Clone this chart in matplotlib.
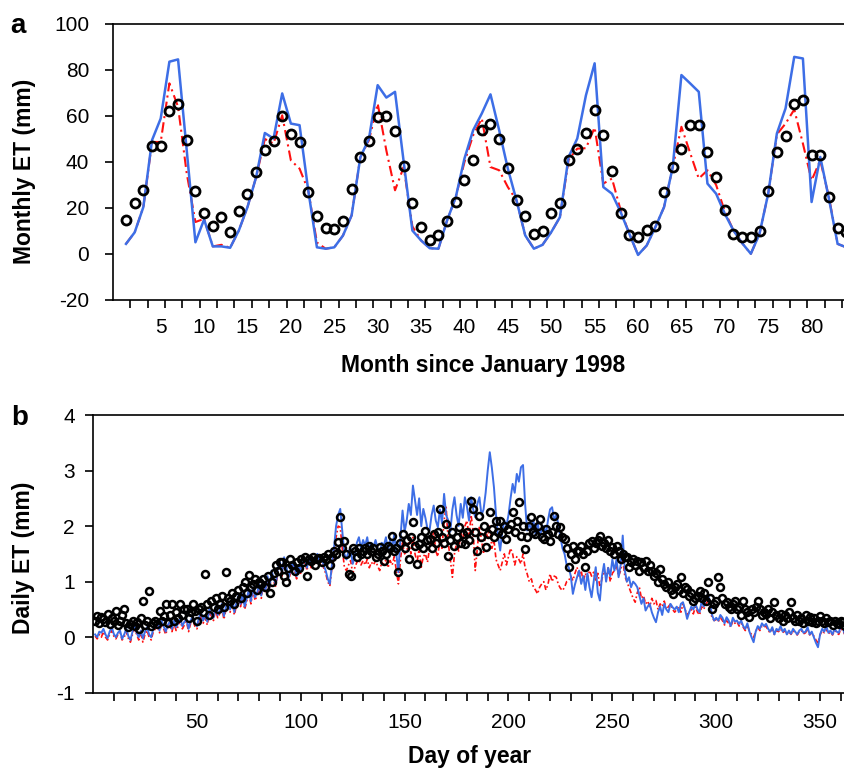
import numpy as np
import matplotlib
matplotlib.use("Agg")
import matplotlib.pyplot as plt
from matplotlib.ticker import FixedLocator

plt.rcParams['font.family'] = ['Liberation Sans', 'DejaVu Sans']
plt.rcParams['axes.unicode_minus'] = False

# ---- panel a: monthly ET, months since January 1998 ----
months = list(range(1, 85))
obs_month = [14.6, 22.1, 27.7, 46.8, 46.8, 62.2, 65.1, 49.5, 27.4, 17.9,
             12.3, 16.3, 9.5, 18.7, 26.1, 35.5, 45.0, 49.0, 59.8, 52.1,
             48.6, 26.8, 16.5, 11.2, 11.0, 14.5, 28.1, 42.2, 49.0, 59.6,
             59.9, 53.4, 38.1, 22.1, 11.7, 5.9, 8.4, 14.3, 22.6, 32.0,
             40.7, 53.8, 56.7, 49.8, 37.4, 23.6, 16.5, 8.8, 9.9, 17.8,
             22.1, 41.0, 45.7, 52.4, 62.8, 51.6, 35.9, 17.8, 8.1, 7.3,
             10.5, 12.0, 26.9, 37.8, 45.8, 56.0, 56.0, 44.4, 33.5, 19.3,
             8.8, 7.6, 7.6, 10.2, 27.2, 44.4, 51.2, 65.1, 66.9, 42.9,
             42.9, 24.7, 11.2, 9.5]
blue_month = [4.4, 9.4, 20.4, 49.5, 58.9, 83.6, 84.6, 45.0, 5.1, 15.0,
              3.3, 3.3, 2.7, 10.2, 20.4, 33.5, 52.6, 50.2, 69.8, 56.7,
              56.0, 27.7, 2.9, 2.3, 2.9, 8.0, 16.8, 42.0, 50.2, 73.4,
              68.0, 70.5, 40.0, 10.2, 5.9, 2.5, 2.3, 14.6, 24.7, 41.5,
              53.8, 61.1, 69.4, 53.8, 37.1, 23.3, 8.1, 2.3, 4.0, 9.5,
              16.0, 42.2, 50.2, 69.0, 82.9, 29.1, 26.2, 18.2, 8.8, -0.4,
              3.7, 11.7, 20.4, 37.8, 77.8, 74.2, 70.5, 30.6, 26.2, 17.5,
              10.2, 4.7, 0.1, 8.8, 26.2, 52.4, 63.3, 85.7, 85.0, 22.6,
              42.2, 24.0, 4.4, 2.9]
red_month = [4.4, 9.4, 20.4, 48.7, 48.7, 74.2, 64.0, 35.0, 13.9, 15.3,
             3.3, 4.0, 2.7, 10.2, 20.4, 33.5, 50.0, 48.0, 60.3, 40.7,
             37.1, 27.7, 5.0, 2.3, 2.9, 8.0, 16.8, 42.0, 49.5, 65.4,
             45.0, 27.7, 37.8, 12.0, 5.9, 2.5, 2.3, 14.6, 24.7, 40.0,
             51.6, 58.9, 37.8, 36.4, 29.1, 23.3, 8.1, 2.3, 4.0, 9.5,
             16.0, 41.0, 45.8, 46.0, 55.0, 30.6, 32.8, 19.0, 8.8, -0.4,
             3.7, 11.7, 20.4, 37.8, 55.3, 44.0, 32.8, 36.4, 30.0, 18.5,
             10.2, 4.7, 0.1, 8.8, 26.2, 52.0, 56.7, 62.8, 48.0, 32.0,
             40.7, 24.7, 4.4, 2.9]

# ---- panel b: daily ET, day of year ----
days = list(range(1, 366))
obs_day = [
    0.3, 0.39, 0.25, 0.36, 0.32, 0.28, 0.42, 0.24, 0.35, 0.3,
    0.48, 0.22, 0.3, 0.4, 0.51, 0.25, 0.18, 0.24, 0.3, 0.2,
    0.28, 0.15, 0.35, 0.66, 0.22, 0.3, 0.84, 0.2, 0.25, 0.3,
    0.24, 0.48, 0.3, 0.38, 0.6, 0.25, 0.4, 0.6, 0.3, 0.45,
    0.35, 0.6, 0.4, 0.5, 0.51, 0.35, 0.45, 0.6, 0.48, 0.3,
    0.5, 0.55, 0.45, 1.14, 0.6, 0.4, 0.65, 0.55, 0.7, 0.5,
    0.6, 0.75, 0.55, 1.17, 0.7, 0.65, 0.8, 0.6, 0.75, 0.85,
    0.7, 0.9, 1.0, 0.8, 1.12, 0.9, 0.95, 1.05, 0.85, 1.0,
    0.95, 1.05, 0.9, 1.1, 0.8, 1.0, 1.15, 1.3, 1.2, 1.35,
    1.35, 1.1, 1.0, 1.25, 1.4, 1.3, 1.2, 1.35, 1.25, 1.4,
    1.35, 1.45, 1.1, 1.4, 1.38, 1.45, 1.3, 1.4, 1.42, 1.35,
    1.45, 1.4, 1.5, 1.3, 1.45, 1.55, 1.5, 1.71, 2.16, 1.6,
    1.74, 1.5, 1.14, 1.1, 1.6, 1.55, 1.45, 1.6, 1.5, 1.55,
    1.6, 1.5, 1.65, 1.55, 1.6, 1.45, 1.5, 1.62, 1.55, 1.38,
    1.5, 1.65, 1.6, 1.83, 1.55, 1.6, 1.17, 1.7, 1.86, 1.6,
    1.75, 1.41, 1.8, 2.07, 1.65, 1.32, 1.68, 1.8, 1.6, 1.92,
    1.75, 1.77, 1.6, 1.85, 1.7, 1.9, 2.3, 1.8, 1.7, 2.04,
    1.47, 1.75, 1.9, 1.65, 1.8, 1.98, 1.7, 1.85, 1.68, 1.9,
    1.75, 2.46, 2.3, 1.9, 1.56, 2.19, 1.8, 2.0, 1.62, 1.85,
    2.25, 1.95, 1.8, 2.1, 1.9, 2.1, 1.85, 2.0, 1.77, 1.95,
    2.04, 2.25, 1.9, 2.1, 2.43, 1.83, 2.0, 1.59, 1.8, 2.0,
    2.16, 1.9, 1.86, 2.0, 2.13, 1.8, 1.77, 1.95, 1.85, 1.74,
    1.9, 2.19, 2.0, 1.85, 1.98, 1.8, 1.77, 1.6, 1.26, 1.5,
    1.65, 1.4, 1.55, 1.56, 1.65, 1.5, 1.26, 1.56, 1.7, 1.74,
    1.6, 1.7, 1.75, 1.83, 1.65, 1.7, 1.6, 1.75, 1.55, 1.62,
    1.5, 1.65, 1.56, 1.4, 1.5, 1.45, 1.44, 1.26, 1.35, 1.4,
    1.3, 1.38, 1.2, 1.35, 1.25, 1.38, 1.2, 1.3, 1.2, 1.1,
    1.15, 1.0, 1.23, 1.05, 0.95, 0.9, 1.0, 0.85, 0.78, 0.9,
    0.95, 0.85, 1.08, 0.8, 0.9, 0.87, 0.75, 0.8, 0.66, 0.7,
    0.75, 0.84, 0.7, 0.8, 0.65, 0.99, 0.7, 0.51, 0.6, 0.65,
    1.09, 0.9, 0.7, 0.6, 0.63, 0.55, 0.5, 0.6, 0.66, 0.5,
    0.55, 0.4, 0.66, 0.5, 0.45, 0.36, 0.5, 0.45, 0.55, 0.66,
    0.5, 0.4, 0.45, 0.42, 0.5, 0.35, 0.45, 0.63, 0.4, 0.35,
    0.42, 0.3, 0.4, 0.35, 0.45, 0.63, 0.35, 0.3, 0.4, 0.3,
    0.35, 0.25, 0.4, 0.3, 0.36, 0.28, 0.35, 0.25, 0.3, 0.39,
    0.3, 0.25, 0.35, 0.28, 0.3, 0.22, 0.3, 0.25, 0.24, 0.3,
    0.28, 0.2, 0.25, 0.3, 0.22]
blue_day = [
    0.05, 0.0, 0.1, 0.08, 0.15, 0.05, -0.02, 0.1, 0.18, 0.06,
    0.0, 0.08, 0.12, -0.03, 0.05, 0.15, 0.02, -0.05, 0.1, 0.2,
    0.08, 0.0, 0.12, -0.02, 0.1, 0.18, 0.05, 0.0, 0.15, 0.2,
    0.25, 0.12, 0.3, 0.2, 0.1, 0.22, 0.28, 0.15, 0.3, 0.18,
    0.25, 0.35, 0.2, 0.28, 0.32, 0.15, 0.3, 0.38, 0.25, 0.2,
    0.35, 0.45, 0.3, 0.4, 0.28, 0.5, 0.42, 0.35, 0.55, 0.4,
    0.48, 0.6, 0.38, 0.55, 0.65, 0.5, 0.7, 0.45, 0.62, 0.75,
    0.6, 0.78, 0.55, 0.7, 0.85, 0.65, 0.9, 0.72, 0.8, 0.95,
    0.75, 1.0, 0.85, 1.1, 0.9, 1.2, 1.05, 0.95, 1.25, 1.35,
    1.15, 1.44, 1.3, 1.05, 1.2, 1.35, 1.25, 1.1, 1.3, 1.2,
    1.35, 1.4, 1.25, 1.45, 1.3, 1.32, 1.4, 1.5, 1.35, 1.45,
    1.3, 1.2, 1.05, 0.96, 1.3, 1.6, 2.0, 2.2, 2.31, 1.9,
    1.5, 1.4, 1.55, 1.6, 1.32, 1.45, 1.7, 1.8, 1.6, 1.75,
    1.65, 1.8, 1.55, 1.7, 1.62, 1.75, 1.6, 1.5, 1.7, 1.65,
    1.8, 1.55, 1.75, 1.6, 1.85, 1.5, 1.17, 1.8, 2.28, 1.9,
    2.1, 2.4, 2.2, 2.73, 2.46, 2.2, 2.5, 2.0, 2.31, 2.15,
    1.95, 1.92, 2.2, 2.37, 2.1, 1.98, 2.3, 2.05, 2.58, 2.2,
    2.1, 1.9, 2.3, 2.52, 2.2, 2.0, 2.4, 2.15, 2.52, 2.35,
    2.1, 2.52, 2.3, 2.16, 2.4, 2.52, 2.2, 2.3, 2.6, 3.0,
    3.33, 3.05, 2.7, 2.2, 1.8, 1.56, 1.9, 2.1, 2.0, 2.2,
    2.5, 2.76, 2.6, 2.94, 2.8, 3.06, 3.1, 2.4, 1.92, 2.05,
    1.92, 2.1, 1.85, 2.1, 1.8, 1.95, 2.0, 1.85, 2.1, 2.3,
    2.34, 2.1, 2.2, 2.04, 1.8, 1.6, 1.5, 1.3, 1.26, 1.1,
    0.78, 0.95, 1.08, 1.2, 0.96, 1.1, 0.85, 1.15, 0.9, 0.72,
    1.0, 1.26, 0.8, 0.66, 1.1, 1.32, 1.0, 1.25, 1.1, 1.4,
    1.2, 1.4, 1.08, 1.3, 1.83, 1.2, 1.0, 1.08, 0.9, 1.0,
    0.96, 0.9, 0.75, 0.6, 0.7, 0.48, 0.55, 0.6, 0.45, 0.35,
    0.27, 0.45, 0.55, 0.4, 0.6, 0.5, 0.45, 0.6, 0.54, 0.5,
    0.55, 0.45, 0.6, 0.63, 0.5, 0.33, 0.45, 0.55, 0.5, 0.6,
    0.5, 0.45, 0.65, 0.55, 0.7, 0.78, 0.6, 0.4, 0.3, 0.35,
    0.3, 0.4, 0.35, 0.25, 0.36, 0.3, 0.2, 0.35, 0.28, 0.3,
    0.24, 0.3, 0.2, 0.15, 0.25, 0.1, 0.0, -0.09, 0.1, 0.2,
    0.15, 0.25, 0.2, 0.24, 0.15, 0.1, 0.18, 0.05, 0.15, 0.12,
    0.2, 0.1, 0.15, 0.05, 0.12, 0.06, 0.15, 0.1, 0.05, 0.12,
    0.15, 0.08, 0.1, 0.18, 0.05, 0.1, 0.0, -0.1, -0.18, 0.05,
    0.15, 0.1, 0.2, 0.08, 0.12, 0.05, 0.15, 0.1, 0.08, 0.2,
    0.15, 0.05, 0.0, 0.1, 0.15]
red_day = [
    0.02, -0.03, 0.05, 0.0, 0.1, 0.0, -0.05, 0.05, 0.12, 0.02,
    -0.03, 0.05, 0.08, -0.05, 0.0, 0.1, -0.02, -0.09, 0.05, 0.15,
    0.05, -0.05, 0.08, -0.09, 0.05, 0.12, 0.0, -0.05, 0.1, 0.15,
    0.2, 0.08, 0.25, 0.15, 0.05, 0.18, 0.22, 0.1, 0.25, 0.12,
    0.2, 0.3, 0.15, 0.22, 0.28, 0.1, 0.25, 0.32, 0.2, 0.15,
    0.3, 0.4, 0.25, 0.35, 0.22, 0.45, 0.38, 0.3, 0.5, 0.35,
    0.42, 0.55, 0.32, 0.5, 0.6, 0.45, 0.65, 0.4, 0.56, 0.7,
    0.55, 0.72, 0.5, 0.65, 0.8, 0.6, 0.85, 0.66, 0.75, 0.9,
    0.7, 0.95, 0.8, 1.05, 0.85, 1.15, 1.0, 0.9, 1.2, 1.3,
    1.1, 1.38, 1.25, 1.0, 1.15, 1.3, 1.2, 1.05, 1.25, 1.15,
    1.3, 1.35, 1.2, 1.4, 1.25, 1.28, 1.35, 1.45, 1.3, 1.4,
    1.25, 1.15, 1.0, 0.92, 1.25, 1.5, 1.8, 2.0, 1.98, 1.6,
    1.26, 1.2, 1.3, 1.38, 1.15, 1.25, 1.35, 1.4, 1.3, 1.38,
    1.3, 1.4, 1.25, 1.35, 1.3, 1.38, 1.28, 1.2, 1.35, 1.3,
    1.4, 1.25, 1.38, 1.3, 1.45, 1.2, 0.96, 1.4, 1.7, 1.5,
    1.55, 1.7, 1.5, 1.8, 1.5, 1.35, 1.6, 1.26, 1.45, 1.5,
    1.35, 1.6, 1.75, 1.9, 1.55, 1.45, 1.8, 1.6, 2.1, 2.34,
    1.7, 1.4, 1.08, 1.5, 1.7, 1.55, 1.9, 1.75, 2.0, 2.1,
    1.8, 2.2, 1.9, 1.2, 1.6, 2.0, 1.75, 1.5, 1.9, 1.8,
    2.0, 1.6, 1.75, 1.4, 1.3, 1.2, 1.35, 1.5, 1.3, 1.45,
    1.6, 1.5, 1.3, 1.45, 1.4, 1.32, 1.5, 1.25, 1.14, 1.0,
    1.05, 0.9, 0.85, 0.78, 0.9, 0.96, 1.0, 0.85, 0.95, 1.14,
    1.0, 1.1, 1.08, 0.95, 0.88, 0.84, 0.9, 1.0, 1.02, 1.1,
    1.02, 1.15, 1.26, 1.1, 1.2, 1.0, 1.15, 1.05, 1.2, 1.1,
    1.17, 1.0, 1.15, 0.9, 1.05, 1.2, 1.1, 1.25, 1.0, 1.15,
    1.2, 1.3, 1.1, 1.2, 1.4, 1.1, 1.0, 0.9, 0.8, 0.7,
    0.63, 0.8, 0.9, 0.7, 0.75, 0.6, 0.65, 0.55, 0.7, 0.6,
    0.66, 0.5, 0.6, 0.55, 0.65, 0.5, 0.55, 0.6, 0.5, 0.45,
    0.5, 0.55, 0.45, 0.6, 0.5, 0.4, 0.45, 0.5, 0.42, 0.55,
    0.45, 0.4, 0.55, 0.5, 0.6, 0.65, 0.5, 0.35, 0.3, 0.32,
    0.28, 0.35, 0.3, 0.22, 0.3, 0.25, 0.18, 0.3, 0.25, 0.28,
    0.2, 0.25, 0.18, 0.12, 0.22, 0.1, 0.05, 0.0, 0.1, 0.18,
    0.12, 0.2, 0.18, 0.2, 0.12, 0.08, 0.15, 0.05, 0.12, 0.1,
    0.15, 0.08, 0.12, 0.05, 0.1, 0.05, 0.12, 0.08, 0.04, 0.1,
    0.12, 0.06, 0.08, 0.15, 0.04, 0.08, 0.02, -0.05, -0.1, 0.04,
    0.12, 0.08, 0.15, 0.06, 0.1, 0.04, 0.12, 0.08, 0.05, 0.15,
    0.12, 0.04, 0.0, 0.08, 0.12]

BLUE = '#3d6ee6'
RED = '#ff1010'

fig = plt.figure(figsize=(8.45, 7.71), dpi=100)
ax1 = fig.add_axes([0.1337, 0.6109, 0.8663, 0.358])
ax2 = fig.add_axes([0.1101, 0.1015, 0.8899, 0.3602])

# panel a
ax1.plot(months, red_month, color=RED, lw=1.5, ls=(0, (5, 2, 1, 2)))
ax1.plot(months, blue_month, color=BLUE, lw=1.8)
ax1.plot(months, obs_month, ls='none', marker='o', ms=6.5, mfc='none',
         mec='black', mew=2.0)
ax1.set_xlim(-0.5, 83.85)
ax1.set_ylim(-20, 100)
ax1.set_yticks(range(-20, 101, 20))
ax1.xaxis.set_major_locator(FixedLocator(range(5, 81, 5)))
ax1.xaxis.set_minor_locator(FixedLocator(np.arange(1.5, 84, 2)))
ax1.tick_params(axis='x', which='major', length=0, labelsize=15, pad=13)
ax1.tick_params(axis='x', which='minor', length=6, width=1.2, direction='out')
ax1.tick_params(axis='y', length=6, width=1.2, direction='out', labelsize=15, pad=11)
ax1.set_xlabel('Month since January 1998', fontsize=16.5, fontweight='bold')
ax1.xaxis.set_label_coords(0.505, -0.196)
ax1.set_ylabel('Monthly ET (mm)', fontsize=16.5, fontweight='bold')
ax1.yaxis.set_label_coords(-0.105, 0.467)
ax1.spines['right'].set_visible(False)

# panel b
ax2.plot(days, red_day, color=RED, lw=1.2, ls=(0, (3, 1.5, 1, 1.5)))
ax2.plot(days, blue_day, color=BLUE, lw=1.4)
ax2.plot(days, obs_day, ls='none', marker='o', ms=5, mfc='none',
         mec='black', mew=1.8)
ax2.set_xlim(0, 362)
ax2.set_ylim(-1, 4)
ax2.set_yticks(range(-1, 5))
ax2.xaxis.set_major_locator(FixedLocator(range(50, 351, 50)))
ax2.xaxis.set_minor_locator(FixedLocator(range(10, 361, 10)))
ax2.tick_params(axis='x', which='major', length=6, width=1.2, labelsize=15, pad=8.5)
ax2.tick_params(axis='x', which='minor', length=6, width=1.2, direction='out')
ax2.tick_params(axis='y', length=6, width=1.2, direction='out', labelsize=15, pad=7)
ax2.set_xlabel('Day of year', fontsize=16.5, fontweight='bold')
ax2.xaxis.set_label_coords(0.501, -0.188)
ax2.set_ylabel('Daily ET (mm)', fontsize=16.5, fontweight='bold')
ax2.yaxis.set_label_coords(-0.077, 0.485)
ax2.spines['right'].set_visible(False)

for ax in (ax1, ax2):
    for s in ('left', 'bottom', 'top'):
        ax.spines[s].set_linewidth(1.2)

fig.text(0.0207, 0.957, 'a', fontsize=20, fontweight='bold', ha='center', va='baseline')
fig.text(0.0237, 0.4488, 'b', fontsize=20, fontweight='bold', ha='center', va='baseline')

fig.savefig('out.png', dpi=100)
